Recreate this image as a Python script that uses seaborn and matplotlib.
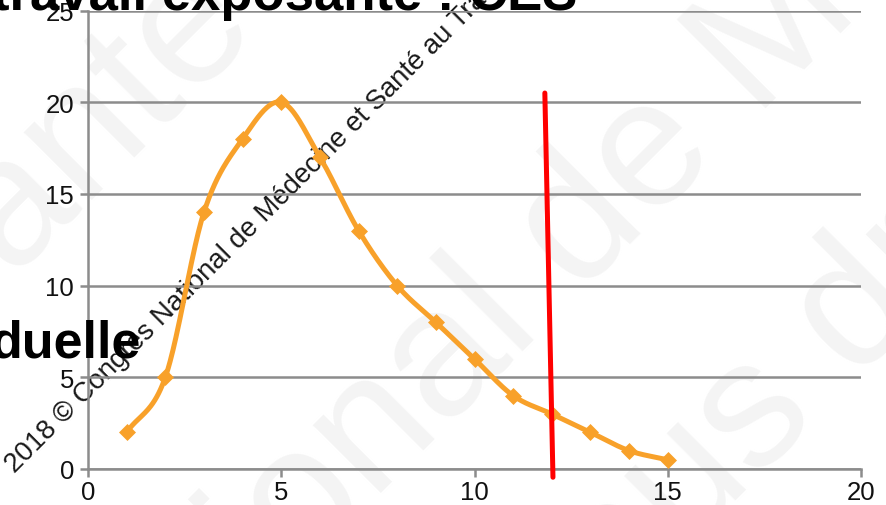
import numpy as np
import pandas as pd
import matplotlib
matplotlib.use("Agg")
import matplotlib.pyplot as plt
import seaborn as sns

# Series values
x_vals = [1, 2, 3, 4, 5, 6, 7, 8, 9, 10, 11, 12, 13, 14, 15]
y_vals = [2, 5, 14, 18, 20, 17, 13, 10, 8, 6, 4, 3, 2, 1, 0.5]

# Vertical cut-off line (two end points)
cutoff_x = [11.82, 12.03]
cutoff_y = [20.5, -0.45]

x_ticks = [0, 5, 10, 15, 20]
y_ticks = [0, 5, 10, 15, 20, 25]

title_text = "travail exposante : CES"
side_text = "duelle"
copyright_text = "2018 © Congrès National de Médecine et Santé au Travail"
watermark_lines = ["et Santé au Travail", "National de Médecine", "Tous droits réservés"]

W, H = 887, 506
ORANGE = "#F8A12A"
GRID = "#8c8c8c"

sns.set_theme(style="white")
plt.rcParams["font.family"] = ["Liberation Sans", "DejaVu Sans"]


def smooth_curve(xs, ys, n=40):
    """Catmull-Rom curve through the given points (like a smoothed line chart)."""
    pts = np.column_stack([xs, ys]).astype(float)
    ext = np.vstack([2 * pts[0] - pts[1], pts, 2 * pts[-1] - pts[-2]])
    out = []
    t = np.linspace(0, 1, n, endpoint=False)[:, None]
    for i in range(1, len(ext) - 2):
        p0, p1, p2, p3 = ext[i - 1:i + 3]
        seg = 0.5 * (2 * p1 + (-p0 + p2) * t
                     + (2 * p0 - 5 * p1 + 4 * p2 - p3) * t ** 2
                     + (-p0 + 3 * p1 - 3 * p2 + p3) * t ** 3)
        out.append(seg)
    out.append(pts[-1:])
    return np.vstack(out)


def px(x, y):
    """Pixel position (from top-left) to figure fraction."""
    return x / W, 1 - y / H


fig = plt.figure(figsize=(W / 100, H / 100), dpi=100)
fig.patch.set_facecolor("white")

# faint background watermark
wm_anchors = [(-214, 507), (75, 800), (550, 687)]
for txt, (ax_, ay_) in zip(watermark_lines, wm_anchors):
    fx, fy = px(ax_, ay_)
    fig.text(fx, fy, txt, rotation=45, rotation_mode="anchor", ha="left",
             va="baseline", fontsize=130, color="#f4f4f4", zorder=-2)

# diagonal copyright line
fx, fy = px(15, 474)
fig.text(fx, fy, copyright_text, rotation=45, rotation_mode="anchor",
         ha="left", va="baseline", fontsize=19.8, color="#1a1a1a", zorder=-1)

ax = fig.add_axes([88 / W, 1 - 470 / H, (861 - 88) / W, (470 - 11.5) / H])
ax.patch.set_alpha(0)

curve = smooth_curve(x_vals, y_vals)
smooth_df = pd.DataFrame({"x": curve[:, 0], "y": curve[:, 1]})
points_df = pd.DataFrame({"x": x_vals, "y": y_vals})
cut_df = pd.DataFrame({"x": cutoff_x, "y": cutoff_y})

sns.lineplot(data=smooth_df, x="x", y="y", sort=False, estimator=None,
             color=ORANGE, linewidth=3.6, ax=ax, zorder=3)
sns.scatterplot(data=points_df, x="x", y="y", marker="D", s=75,
                color=ORANGE, linewidth=0, ax=ax, zorder=4)
sns.lineplot(data=cut_df, x="x", y="y", sort=False, estimator=None,
             color="#ff0000", linewidth=3.6, ax=ax, zorder=5, clip_on=False)

ax.set_xlim(0, 20)
ax.set_ylim(0, 25)
ax.set_xticks(x_ticks)
ax.set_yticks(y_ticks)
ax.set_xlabel("")
ax.set_ylabel("")

ax.grid(axis="y", color=GRID, linewidth=1.8)
ax.grid(axis="x", visible=False)
ax.set_axisbelow(True)
for side in ("top", "right"):
    ax.spines[side].set_visible(False)
for side in ("left", "bottom"):
    ax.spines[side].set_color(GRID)
    ax.spines[side].set_linewidth(1.8)

ax.tick_params(axis="both", which="major", length=6, width=1.8, color=GRID,
               labelsize=18.5, labelcolor="#111111", direction="out")
ax.tick_params(axis="x", pad=2)
ax.tick_params(axis="y", pad=4)
ax.tick_params(left=True, bottom=True)

# slide text around the chart
fx, fy = px(-8, 10)
fig.text(fx, fy, title_text, ha="left", va="baseline", fontsize=38,
         fontweight="bold", color="black", zorder=2)
fx, fy = px(-9, 357)
fig.text(fx, fy, side_text, ha="left", va="baseline", fontsize=37.5,
         fontweight="bold", color="black", zorder=2)

fig.savefig("out.png", dpi=100)
